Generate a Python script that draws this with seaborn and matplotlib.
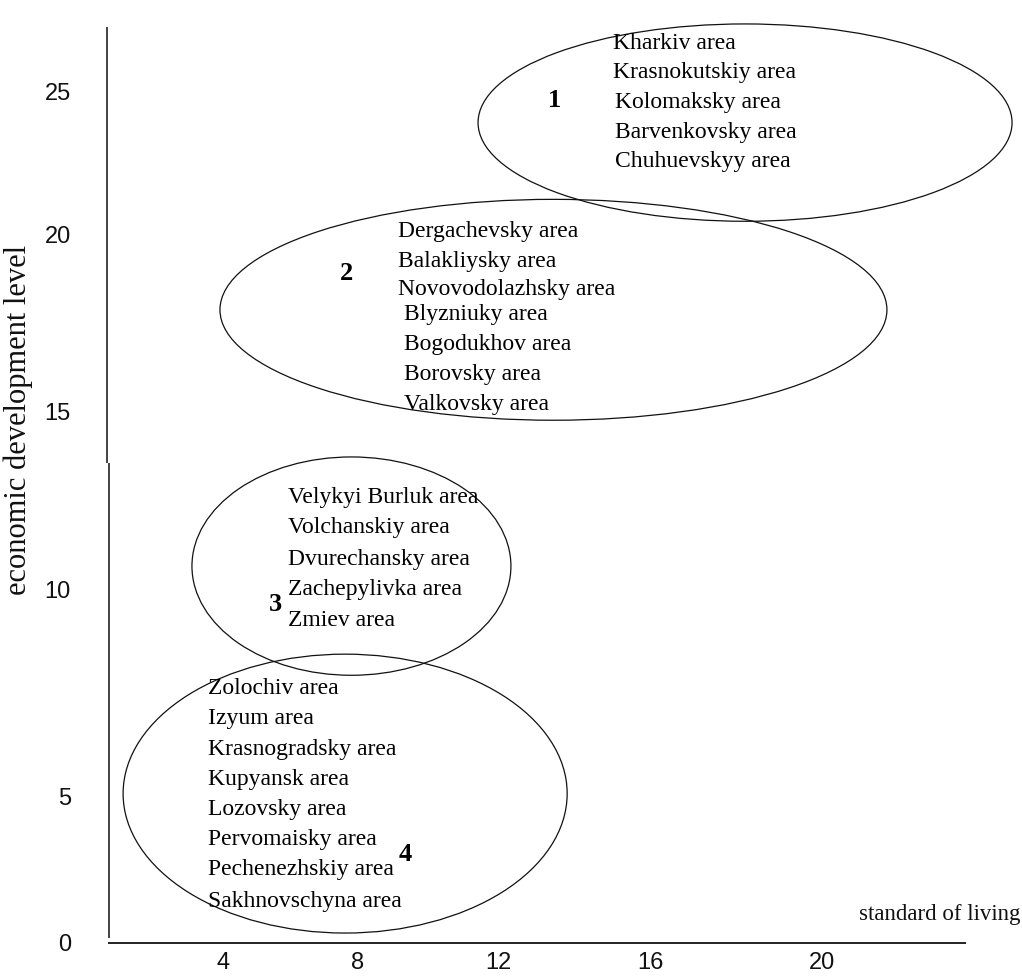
import numpy as np
import pandas as pd
import matplotlib
matplotlib.use("Agg")
import matplotlib.pyplot as plt
from matplotlib.patches import Ellipse
import seaborn as sns

# ---------------- data ----------------
x_ticks = [4, 8, 12, 16, 20]
y_ticks = [0, 5, 10, 15, 20, 25]
x_label = "standard of living"
y_label = "economic development level"

cluster_ids = ["1", "2", "3", "4"]
cluster1_names = ["Kharkiv area", "Krasnokutskiy area", "Kolomaksky area",
                  "Barvenkovsky area", "Chuhuevskyy area"]
cluster2_names = ["Dergachevsky area", "Balakliysky area", "Novovodolazhsky area",
                  "Blyzniuky area", "Bogodukhov area", "Borovsky area", "Valkovsky area"]
cluster3_names = ["Velykyi Burluk area", "Volchanskiy area", "Dvurechansky area",
                  "Zachepylivka area", "Zmiev area"]
cluster4_names = ["Zolochiv area", "Izyum area", "Krasnogradsky area", "Kupyansk area",
                  "Lozovsky area", "Pervomaisky area", "Pechenezhskiy area",
                  "Sakhnovschyna area"]

# ellipse extents of each cluster (standard of living range, economic level range)
cluster_x_lo = [11.43, 3.91, 3.08, 1.04]
cluster_x_hi = [24.42, 21.51, 12.34, 13.82]
cluster_y_lo = [20.45, 14.75, 7.93, 0.34]
cluster_y_hi = [27.38, 21.22, 13.72, 8.44]

# cluster number positions
number_x = [13.5, 7.67, 5.54, 9.34]
number_y = [24.69, 18.88, 9.64, 3.03]

# first name of each list (left edge, level)
names_x = [15.03, 9.14, 5.93, 3.56]
names_y = [26.68, 20.10, 12.57, 7.60]

# ---------------- layout (hand-drawn, non-uniform axes) ----------------
XV = [-4, 0, 4, 8, 12, 16, 20, 24, 28]
XP = [-47, 88, 223, 358, 498, 650, 822, 994, 1166]
YV = [-5, 0, 5, 10, 15, 20, 25, 30]
YP = [1094, 947, 800, 592, 413, 235, 92, -51]
YPn = [-p for p in YP]


def fx(v):
    return np.interp(v, XV, XP)


def ix(p):
    return np.interp(p, XP, XV)


def fy(v):
    return np.interp(v, YV, YPn)


def iy(p):
    return np.interp(p, YPn, YV)


W, H = 1022, 976
L_PX, R_PX, T_PX, B_PX = 107, 966, 27, 943

sns.set_theme(style="white")
plt.rcParams["font.family"] = ["Liberation Serif", "DejaVu Serif"]

fig = plt.figure(figsize=(W / 100, H / 100), dpi=100)
ax = fig.add_axes([L_PX / W, (H - B_PX) / H, (R_PX - L_PX) / W, (B_PX - T_PX) / H])
ax.set_facecolor("white")

ax.set_xscale("function", functions=(fx, ix))
ax.set_yscale("function", functions=(fy, iy))
ax.set_xlim(float(ix(L_PX)), float(ix(R_PX)))
ax.set_ylim(float(iy(-B_PX)), float(iy(-T_PX)))

sns.despine(ax=ax, left=True, bottom=True)
for s in ax.spines.values():
    s.set_visible(False)

# axes lines (y axis drawn in two pieces like the original)
ax.plot([0, 0], [0.524, 1.0], transform=ax.transAxes, color="#111111", lw=1.1,
        clip_on=False, solid_capstyle="butt")
ax.plot([0.0023, 0.0023], [0.0055, 0.524], transform=ax.transAxes, color="#111111",
        lw=1.1, clip_on=False, solid_capstyle="butt")
ax.plot([0.0012, 1.0], [0, 0], transform=ax.transAxes, color="#111111", lw=1.3,
        clip_on=False, solid_capstyle="butt")

# ticks
ax.set_xticks(x_ticks)
ax.set_xticklabels([str(v) for v in x_ticks])
ax.set_yticks(y_ticks)
ax.set_yticklabels([str(v) for v in y_ticks])
ax.tick_params(axis="both", length=0, colors="#111111")
ax.tick_params(axis="x", pad=6.5)
ax.tick_params(axis="y", pad=26)
for lab in ax.get_xticklabels() + ax.get_yticklabels():
    lab.set_fontfamily(["Liberation Sans Narrow", "Liberation Sans", "DejaVu Sans"])
    lab.set_fontsize(17)
ax.grid(False)

# axis titles
ax.set_xlabel(x_label, fontsize=16.5, color="#111111", va="center", ha="center")
ax.xaxis.set_label_coords(0.969, 0.0306)
ax.set_ylabel(y_label, fontsize=22, color="#111111", va="center", ha="center")
ax.yaxis.set_label_coords(-0.1036, 0.571)

# ellipses drawn in the scaled space so they are true ellipses
ell_tr = ax.transLimits + ax.transAxes
for xlo, xhi, ylo, yhi in zip(cluster_x_lo, cluster_x_hi, cluster_y_lo, cluster_y_hi):
    sx0, sx1 = fx(xlo), fx(xhi)
    sy0, sy1 = fy(ylo), fy(yhi)
    e = Ellipse(((sx0 + sx1) / 2, (sy0 + sy1) / 2), sx1 - sx0, sy1 - sy0,
                transform=ell_tr, fill=False, edgecolor="#111111", lw=0.9,
                clip_on=False)
    ax.add_patch(e)

# cluster numbers
for cid, x, y in zip(cluster_ids, number_x, number_y):
    ax.text(x, y, cid, fontsize=19, fontweight="bold", ha="center", va="center",
            color="black")

# names lists
PX2PT = 0.72
name_groups = [cluster1_names, cluster2_names, cluster3_names, cluster4_names]
row_dy = [
    [0, 29, 59, 89, 118],
    [0, 30, 58, 83, 113, 143, 173],
    [0, 30, 62, 92, 123],
    [0, 30, 61, 91, 121, 151, 181, 213],
]
row_dx = [
    [0, 0, 2, 2, 2],
    [0, 0, 0, 6, 6, 6, 6],
    [0, 0, 0, 0, 0],
    [0, 0, 0, 0, 0, 0, 0, 0],
]
for names, x0, y0, dys, dxs in zip(name_groups, names_x, names_y, row_dy, row_dx):
    for name, dy, dx in zip(names, dys, dxs):
        ax.annotate(name, xy=(x0, y0), xycoords="data",
                    xytext=(dx * PX2PT, -dy * PX2PT), textcoords="offset points",
                    ha="left", va="center", fontsize=17, color="black",
                    annotation_clip=False)

fig.savefig("out.png", dpi=100, facecolor="white")
